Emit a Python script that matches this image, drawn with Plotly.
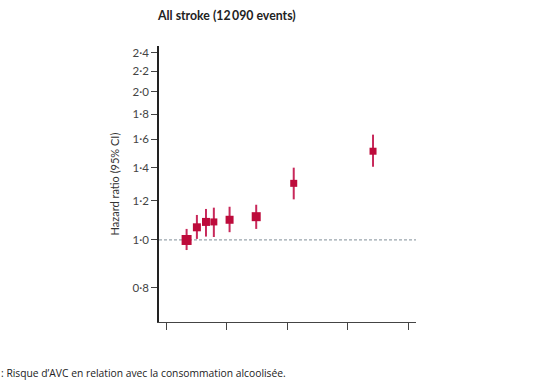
import plotly.graph_objects as go

# Data (alcohol consumption, g/week) vs hazard ratio
alcohol = [34, 51, 66, 79, 105, 149, 211, 342]
hr = [1.00, 1.061, 1.088, 1.088, 1.099, 1.115, 1.303, 1.514]
ci_low = [0.954, 1.005, 1.016, 1.014, 1.037, 1.053, 1.209, 1.408]
ci_high = [1.053, 1.124, 1.156, 1.163, 1.168, 1.179, 1.402, 1.636]
marker_sizes = [10, 8, 8, 7, 8, 9, 7, 7]

y_ticks = [0.8, 1.0, 1.2, 1.4, 1.6, 1.8, 2.0, 2.2, 2.4]
y_ticklabels = ["0·8", "1·0", "1·2", "1·4", "1·6", "1·8", "2·0", "2·2", "2·4"]
x_ticks = [0, 100, 200, 300, 400]

title_text = "All stroke (12\u2009090 events)"
caption_text = ": Risque d\u2019AVC en relation avec la consommation alcoolisée."

red = "#BD0B3B"

err_plus = [c - h for h, c in zip(hr, ci_high)]
err_minus = [h - c for h, c in zip(hr, ci_low)]

fig = go.Figure()
fig.add_trace(go.Scatter(
    x=alcohol, y=hr, mode="markers",
    marker=dict(symbol="square", size=marker_sizes, color=red, opacity=1, line=dict(width=0)),
    error_y=dict(type="data", symmetric=False, array=err_plus, arrayminus=err_minus,
                 color="#C8285A", thickness=2, width=0),
    showlegend=False, hoverinfo="skip",
))

fig.add_shape(type="line", xref="paper", x0=0, x1=1, yref="y", y0=1.0, y1=1.0,
              line=dict(color="#9AA5AD", width=1.2, dash="3px,2px"), layer="below")

fig.update_layout(
    width=538, height=384,
    margin=dict(l=159, r=122, t=46, b=62),
    paper_bgcolor="white", plot_bgcolor="white",
    font=dict(family="Lato, Open Sans, sans-serif", size=10, color="#333"),
    xaxis=dict(range=[-11.6, 413], tickvals=x_ticks, showticklabels=False,
               ticks="outside", ticklen=7, tickcolor="#444", tickwidth=1.2,
               showline=True, linecolor="#444", linewidth=1.3,
               showgrid=False, zeroline=False),
    yaxis=dict(type="log", range=[-0.1665, 0.3937], tickvals=y_ticks, ticktext=y_ticklabels,
               ticks="outside", ticklen=6, tickcolor="#444", tickwidth=1.2,
               showline=True, linecolor="#222", linewidth=1.5,
               showgrid=False, zeroline=False,
               tickfont=dict(size=11.5, color="#444"),
               title=dict(text="Hazard ratio (95% CI)", font=dict(size=11, color="#333"), standoff=11)),
    annotations=[
        dict(text="<b>" + title_text + "</b>", xref="paper", yref="paper",
             x=(226 - 159) / 257, y=1 + (46 - 16) / 276, xanchor="center", yanchor="middle",
             showarrow=False, font=dict(size=12.3, color="#222")),
        dict(text=caption_text, xref="paper", yref="paper",
             x=(-1 - 159) / 257, y=-(373 - 322) / 276, xanchor="left", yanchor="middle",
             showarrow=False, font=dict(family="Open Sans, sans-serif", size=10.3, color="#222")),
    ],
)

fig.write_html("out.html", config={"displayModeBar": False},
               post_script="document.body.style.margin='0px';")
